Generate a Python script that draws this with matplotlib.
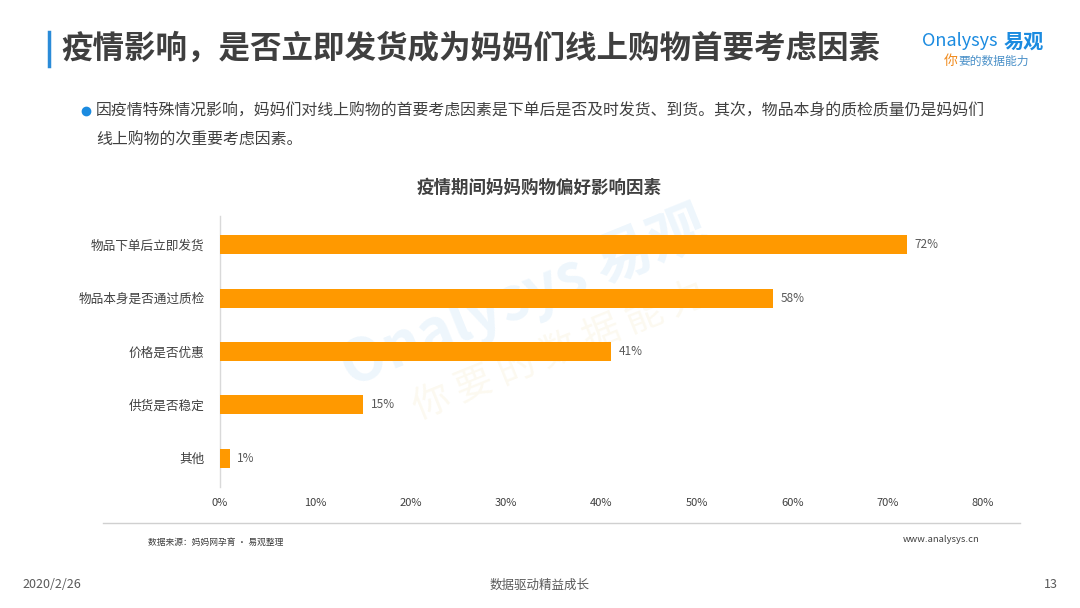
import numpy as np
import matplotlib
matplotlib.use("Agg")
import matplotlib.pyplot as plt
from matplotlib.lines import Line2D

plt.rcParams['font.family'] = ['Noto Sans CJK SC', 'DejaVu Sans']

#%% data
categories = ["物品下单后立即发货", "物品本身是否通过质检", "价格是否优惠", "供货是否稳定", "其他"]
values = [72, 58, 41, 15, 1]
x_ticks = [0, 10, 20, 30, 40, 50, 60, 70, 80]

title = "疫情影响，是否立即发货成为妈妈们线上购物首要考虑因素"
bullet_lines = ["因疫情特殊情况影响，妈妈们对线上购物的首要考虑因素是下单后是否及时发货、到货。其次，物品本身的质检质量仍是妈妈们",
                "线上购物的次重要考虑因素。"]
chart_title = "疫情期间妈妈购物偏好影响因素"
source = "数据来源：妈妈网孕育 · 易观整理"

W, H = 1080, 608
BAR = "#FF9900"
GRAY = "#595959"

def fx(px):
    return px / W

def fy(py):
    return 1 - py / H

fig = plt.figure(figsize=(W / 100, H / 100), dpi=100)
fig.patch.set_facecolor("white")

#%% header
fig.add_artist(Line2D([fx(49), fx(49)], [fy(32), fy(66)], color="#2a8bd8", lw=2.5))
fig.text(fx(61), fy(49), title, fontsize=22.7, fontweight="bold", color="#3f3f3f", va="center", ha="left")

# logo
fig.text(fx(922), fy(41), "Onalysys", fontsize=13, color="#1b8be0", va="center", ha="left")
fig.text(fx(1004), fy(41), "易观", fontsize=14.5, fontweight="bold", color="#1b8be0", va="center", ha="left")
fig.text(fx(944), fy(61), "你", fontsize=10, color="#f08a1c", va="center", ha="left")
fig.text(fx(958), fy(61), "要的数据能力", fontsize=8.5, color="#4a90c8", va="center", ha="left")

# bullet text
fig.add_artist(Line2D([fx(86)], [fy(111)], marker="o", markersize=6, color="#1b8be0", lw=0))
fig.text(fx(96), fy(111), bullet_lines[0], fontsize=11.45, color="#404040", va="center", ha="left")
fig.text(fx(96), fy(140), bullet_lines[1], fontsize=11.45, color="#404040", va="center", ha="left")

fig.text(fx(539), fy(188), chart_title, fontsize=12.6, fontweight="bold", color="#404040", va="center", ha="center")

#%% chart
ax = fig.add_axes([fx(220), fy(487), fx(983) - fx(220), (487 - 216) / H])
ax.set_facecolor("none")
ypos = np.arange(len(categories))
ax.barh(ypos, values, height=0.36, color=BAR, zorder=3)
for y, v in zip(ypos, values):
    ax.text(v + 0.8, y, f"{v}%", fontsize=8.5, color=GRAY, va="center", ha="left", zorder=4)

ax.set_xlim(0, 80)
ax.set_ylim(len(categories) - 0.46, -0.54)
ax.set_yticks(ypos)
ax.set_yticklabels(categories, fontsize=9.1, color="#404040")
ax.set_xticks(x_ticks)
ax.set_xticklabels([f"{t}%" for t in x_ticks], fontsize=8, color="#404040")
ax.tick_params(axis="both", length=0)
ax.tick_params(axis="y", pad=11)
ax.tick_params(axis="x", pad=8)
for s in ["top", "right", "bottom"]:
    ax.spines[s].set_visible(False)
ax.spines["left"].set_color("#d9d9d9")
ax.spines["left"].set_linewidth(1)

# watermark
ax.text(fx(525), fy(298), "Onalysys 易观", transform=fig.transFigure, fontsize=42, fontweight="bold",
        color="#1b8be0", alpha=0.08, rotation=22, ha="center", va="center", zorder=1)
ax.text(fx(560), fy(352), "你 要 的 数 据 能 力", transform=fig.transFigure, fontsize=27,
        color="#d9b23a", alpha=0.08, rotation=22, ha="center", va="center", zorder=1)

#%% footer
fig.add_artist(Line2D([fx(103), fx(1020)], [fy(523), fy(523)], color="#d0d0d0", lw=1))
fig.text(fx(148), fy(542), source, fontsize=6.3, color="#404040", va="center", ha="left")
fig.text(fx(903), fy(540), "www.analysys.cn", fontsize=6.8, color="#404040", va="center", ha="left")
fig.text(fx(22), fy(585), "2020/2/26", fontsize=9, color="#595959", va="center", ha="left")
fig.text(fx(540), fy(585), "数据驱动精益成长", fontsize=9, color="#595959", va="center", ha="center")
fig.text(fx(1058), fy(585), "13", fontsize=9, color="#595959", va="center", ha="right")

fig.savefig("out.png", dpi=100, facecolor="white")
